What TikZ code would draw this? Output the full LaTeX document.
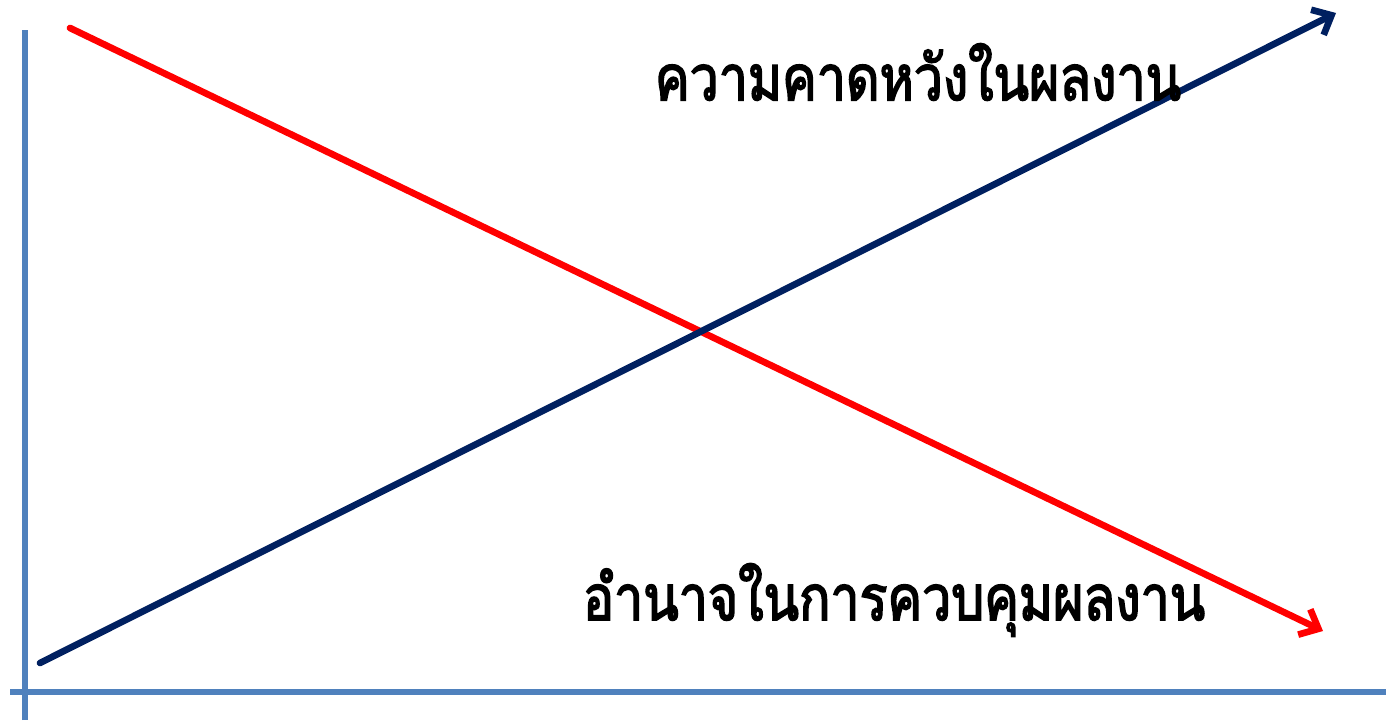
\documentclass[tikz,border=0pt]{standalone}
\usepackage{fontspec}
\newfontfamily\thaifont[Script=Thai,FakeBold=2.5,FakeStretch=0.82]{Loma}
\usetikzlibrary{arrows.meta,positioning}
\definecolor{AX}{HTML}{4F81BD}
\definecolor{UP}{HTML}{002060}
\definecolor{DN}{HTML}{FF0000}
\tikzset{
  axisline/.style={draw=AX, line width=3.3pt},
  trendline/.style={line width=3.8pt, line cap=round,
    -{Straight Barb[length=9pt, width=16pt, line width=3.8pt]}},
  thailabel/.style={font=\thaifont\fontsize{36}{42}\selectfont, inner sep=0pt}
}
\begin{document}
\begin{tikzpicture}[x=0.02cm, y=0.02cm]
    \useasboundingbox (0,0) rectangle (1392,720);
    % axes
    \coordinate (ytop) at (25,690);
    \coordinate (ybot) at (25,0);
    \coordinate (xleft) at (10,28);
    \coordinate (xright) at (1386,28);
    \draw[axisline] (ybot) -- (ytop);
    \draw[axisline] (xleft) -- (xright);
    % trends
    \coordinate (redstart) at (70,692);
    \coordinate (redend) at (1323,89);
    \coordinate (bluestart) at (40,57);
    \coordinate (blueend) at (1336,707);
    \draw[trendline, draw=DN] (redstart) -- (redend);
    \draw[trendline, draw=UP] (bluestart) -- (blueend);
    % labels
    \node[thailabel] (expect) at (918,648) {ความคาดหวังในผลงาน};
    \node[thailabel] (power) at (894,120) {อำนาจในการควบคุมผลงาน};
\end{tikzpicture}
\end{document}
